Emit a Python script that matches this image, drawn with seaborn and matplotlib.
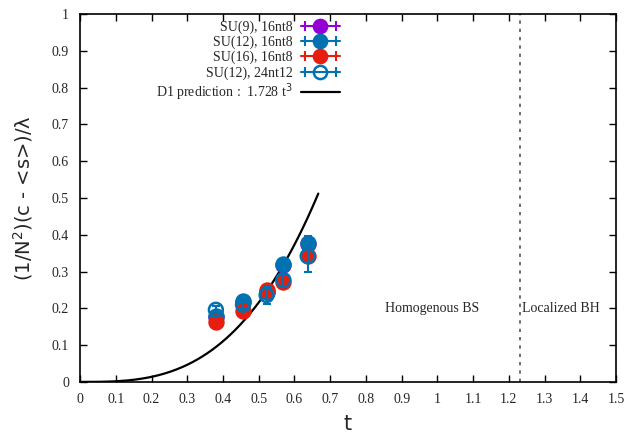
import numpy as np
import pandas as pd
import seaborn as sns
import matplotlib.pyplot as plt
from matplotlib.lines import Line2D
from matplotlib.legend_handler import HandlerLine2D, HandlerTuple

# --- data ---
t_vals = [0.380, 0.456, 0.522, 0.569, 0.637]

su9_16nt8 = [0.176, 0.216, 0.245, 0.318, 0.376]
su9_16nt8_err = [0.008, 0.008, 0.010, 0.012, 0.018]

su12_16nt8 = [0.178, 0.220, 0.245, 0.320, 0.377]
su12_16nt8_err = [0.010, 0.010, 0.010, 0.012, 0.020]

su16_16nt8 = [0.164, 0.194, 0.250, 0.272, 0.342]
su16_16nt8_err = [0.008, 0.008, 0.010, 0.012, 0.015]

su12_24nt12 = [0.196, 0.210, 0.236, 0.277, 0.342]
su12_24nt12_err = [0.010, 0.010, 0.025, 0.015, 0.042]

d1_coef = 1.728
d1_tmax = 2 / 3
transition_t = 1.23

series = [
    ("SU(9), 16nt8", su9_16nt8, su9_16nt8_err, "#9400d3", True),
    ("SU(12), 16nt8", su12_16nt8, su12_16nt8_err, "#0072b2", True),
    ("SU(16), 16nt8", su16_16nt8, su16_16nt8_err, "#e51e10", True),
    ("SU(12), 24nt12", su12_24nt12, su12_24nt12_err, "#0072b2", False),
]

sns.set_theme(style="ticks")
plt.rcParams['font.family'] = ['Liberation Serif', 'DejaVu Serif']

fig = plt.figure(figsize=(6.26, 4.41), dpi=100)
ax = fig.add_axes([0.128, 0.134, 0.856, 0.834])

handles, labels = [], []
hmap = {tuple: HandlerTuple(ndivide=1, pad=0)}
for i, (name, vals, errs, col, filled) in enumerate(series):
    z = 3 + i
    df = pd.DataFrame({"t": t_vals, "v": vals})
    sns.scatterplot(data=df, x="t", y="v", ax=ax, s=100, marker="o",
                    color=col if filled else "none", edgecolor=col,
                    linewidth=1.8, zorder=z, legend=False)
    ax.errorbar(t_vals, vals, yerr=errs, fmt='none', ecolor=col,
                elinewidth=1.5, capsize=3, capthick=1.5, zorder=z)
    # gnuplot-like key: horizontal bar with caps and the point symbol
    bar = Line2D([], [], color=col, lw=1.5)
    caps = Line2D([], [], color=col, lw=0, marker="|", ms=7, mew=1.5)
    dot = Line2D([], [], color=col, lw=0, marker="o", ms=9.5, mew=1.8,
                 mfc=col if filled else "none", mec=col)
    hmap[caps] = HandlerLine2D(numpoints=2)
    handles.append((bar, caps, dot))
    labels.append(name)

# D1 prediction curve
tt = np.linspace(0, d1_tmax, 200)
curve = pd.DataFrame({"t": tt, "y": d1_coef * tt ** 3})
sns.lineplot(data=curve, x="t", y="y", color="black", lw=1.6, ax=ax,
             legend=False, zorder=2)
handles.append(Line2D([], [], color="black", lw=1.6))
labels.append("D1 prediction :  1.728 t$^3$")

ax.axvline(transition_t, color="#555555", ls=(0, (2, 3)), lw=1.2)

ax.text(0.985, 0.2, "Homogenous BS", ha="center", va="center", fontsize=10)
ax.text(1.345, 0.2, "Localized BH", ha="center", va="center", fontsize=10)

ax.set_xlim(0, 1.5)
ax.set_ylim(0, 1)
ax.set_xticks(np.arange(0, 1.51, 0.1))
ax.set_yticks(np.arange(0, 1.01, 0.1))
ax.set_xticklabels([f"{v:g}" for v in np.round(np.arange(0, 1.51, 0.1), 1)])
ax.set_yticklabels([f"{v:g}" for v in np.round(np.arange(0, 1.01, 0.1), 1)])
ax.tick_params(direction="in", length=5, width=1, top=True, right=True,
               labelsize=10, pad=8, color="black")
for s in ax.spines.values():
    s.set_linewidth(1.2)
    s.set_color("black")

ax.set_xlabel("t", fontsize=15, family="DejaVu Sans", labelpad=6)
ax.set_ylabel("(1/N$^2$)(c - <s>)/λ", fontsize=14, family="DejaVu Sans",
              labelpad=12)

ax.legend(handles=handles, labels=labels,
          loc="upper right", bbox_to_anchor=(0.5, 1.005), frameon=False,
          markerfirst=False, fontsize=10, handlelength=2.8,
          labelspacing=0.12, borderaxespad=0.2, handletextpad=0.6,
          handler_map=hmap)

fig.savefig("out.png", dpi=100)
